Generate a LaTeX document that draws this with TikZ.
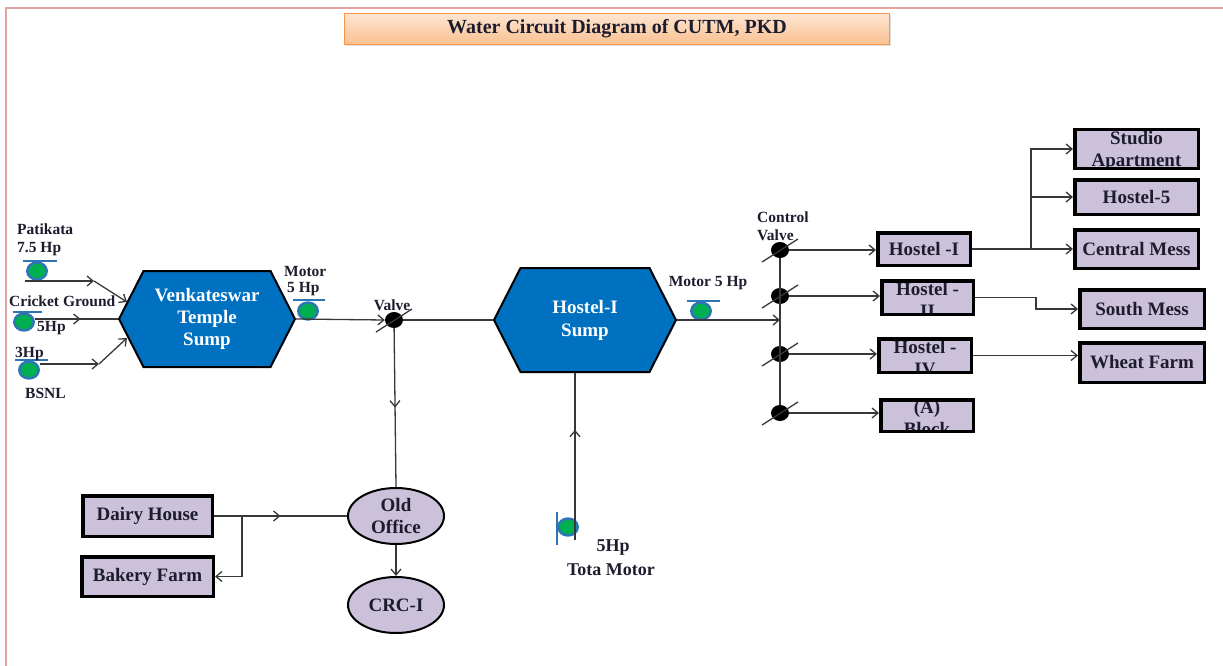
\documentclass[tikz,border=0pt]{standalone}
\usepackage{fontspec}
\setmainfont{Liberation Serif}
\usepackage{tikz}
\usetikzlibrary{
    arrows.meta,
    shapes.geometric,
    shapes.symbols,
    decorations.markings,
    shadows,
    calc,
    positioning
}
\definecolor{hexblue}{HTML}{0070C0}
\definecolor{lav}{HTML}{CCC1DA}
\definecolor{pgreen}{HTML}{00B050}
\definecolor{pblue}{HTML}{2E75B6}
\definecolor{framepink}{HTML}{E3A3A3}
\definecolor{ttop}{HTML}{FDE6D2}
\definecolor{tbot}{HTML}{FAC090}
\definecolor{tline}{HTML}{F79646}
\definecolor{ink}{HTML}{1C1C2E}
\definecolor{pipec}{HTML}{383838}

\begin{document}
\begin{tikzpicture}[x=1pt, y=-1pt,
    >={Straight Barb[length=6pt,width=10pt]},
    pipe/.style={draw=pipec, line width=1.3pt},
    midarrow/.style={postaction={decorate},
        decoration={markings, mark=at position #1 with {\arrow{>}}}},
    titlebox/.style={draw=tline, line width=0.8pt, top color=ttop, bottom color=tbot,
        minimum width=545pt, minimum height=31pt, inner sep=0pt, text=ink,
        font=\fontsize{20}{24}\selectfont\bfseries,
        drop shadow={shadow xshift=1pt, shadow yshift=-2pt, opacity=0.25}},
    sump/.style={signal, signal to=west and east, signal pointer angle=126,
        draw=black, line width=2pt, fill=hexblue, text=white, align=center,
        inner sep=0pt, font=\fontsize{19}{22}\selectfont\bfseries},
    pump/.style={ellipse, draw=pblue, line width=2.4pt, fill=pgreen,
        minimum width=19.5pt, minimum height=17pt, inner sep=0pt},
    bar/.style={draw=pblue, line width=1.2pt},
    valve/.style={ellipse, fill=black, minimum width=18pt, minimum height=16pt, inner sep=0pt},
    tbox/.style={draw=black, line width=3.5pt, fill=lav, text=ink, align=center,
        inner sep=0pt, font=\fontsize{19}{22}\selectfont\bfseries},
    cliptext/.style 2 args={path picture={
        \node[font=\fontsize{19}{22}\selectfont\bfseries, text=ink, align=center, inner sep=0pt]
            at ([shift={(0,#1)}]path picture bounding box.center) {#2};}},
    oval/.style={ellipse, draw=black, line width=2pt, fill=lav, text=ink, align=center,
        minimum width=96pt, minimum height=56pt, inner sep=0pt,
        font=\fontsize{19}{22}\selectfont\bfseries},
    lbl/.style={text=ink, inner sep=0pt, font=\fontsize{15.5}{18}\selectfont\bfseries}
]
\useasboundingbox (0,0) rectangle (1223,666);
\draw[framepink, line width=2pt] (6,666) -- (6,8) -- (1223,8);

\node[titlebox] (title) at (617,29) {Water Circuit Diagram of CUTM, PKD};

\node[sump, minimum width=176pt, minimum height=96pt] (vts) at (207,319) {Venkateswar\\Temple\\Sump};
\node[sump, minimum width=182pt, minimum height=104pt] (hss) at (585,320) {Hostel-I\\[1pt]Sump};

\node[pump] (p1) at (37,271) {};
\node[pump] (p2) at (24,322) {};
\node[pump] (p3) at (29,370) {};
\node[pump] (p4) at (308,311) {};
\node[pump] (p5) at (701,311) {};
\node[pump] (p6) at (568,527) {};
\foreach \p/\a/\b/\c/\d in {p1/-14/-10/20/-10, p2/-11/-10/18/-10, p3/-14/-10/19/-10,
    p4/-15/-11/17/-11, p5/-14/-10/19/-10, p6/-11/-15/-11/18}
    \draw[bar] ([shift={(\a,\b)}]\p.center) -- ([shift={(\c,\d)}]\p.center);

\node[valve] (v1) at (394,320) {};
\node[valve] (c1) at (780,250) {};
\node[valve] (c2) at (780,296) {};
\node[valve] (c3) at (780,354) {};
\node[valve] (c4) at (780,413) {};
\foreach \v in {v1,c1,c2,c3,c4}
    \draw[pipe] ([shift={(-18,12)}]\v.center) -- ([shift={(18,-11)}]\v.center);

\node[oval] (oo) at (396,516) {Old\\Office};
\node[oval] (crc) at (396,605) {CRC-I};

\node[tbox, minimum width=129.5pt, minimum height=40.5pt] (dh) at (147.5,516) {Dairy House};
\node[tbox, minimum width=131.5pt, minimum height=39.5pt] (bk) at (147.5,576.5) {Bakery Farm};
\node[tbox, minimum width=92.5pt, minimum height=32.5pt] (h1) at (924,249) {Hostel -I};
\node[tbox, minimum width=91.5pt, minimum height=33.5pt, cliptext={2.5}{Hostel -\\II}] (h2) at (927.5,297.5) {};
\node[tbox, minimum width=92.5pt, minimum height=33.5pt, cliptext={2.5}{Hostel -\\IV}] (h4) at (925,355.5) {};
\node[tbox, minimum width=92.5pt, minimum height=31.5pt, cliptext={2}{(A)\\Block}] (ab) at (927,415.5) {};
\node[tbox, minimum width=123.5pt, minimum height=38.5pt, cliptext={2}{Studio\\Apartment}] (sa) at (1136.5,149) {};
\node[tbox, minimum width=123.5pt, minimum height=34.5pt] (h5) at (1136.5,197) {Hostel-5};
\node[tbox, minimum width=123.5pt, minimum height=38.5pt] (cm) at (1136.5,249) {Central Mess};
\node[tbox, minimum width=124.5pt, minimum height=38.5pt] (sm) at (1142,309) {South Mess};
\node[tbox, minimum width=124.5pt, minimum height=39.5pt] (wf) at (1142,362.5) {Wheat Farm};

\node[lbl, anchor=west] (lpat) at (17,229) {Patikata};
\node[lbl, anchor=west] (lpat2) at (17,249) {7.5 Hp};
\node[lbl, anchor=west] (lcg) at (9,301) {Cricket Ground};
\node[lbl, anchor=west] (lcg2) at (37,328) {5Hp};
\node[lbl, anchor=west] (lbs) at (15,354) {3Hp};
\node[lbl, anchor=west] (lbs2) at (25,393) {BSNL};
\node[lbl, anchor=west] (lm1) at (284,271) {Motor};
\node[lbl, anchor=west] (lm1b) at (287,289) {5 Hp};
\node[lbl] (lv) at (392,305) {Valve};
\node[lbl] (lm2) at (708,283) {Motor 5 Hp};
\node[lbl, anchor=west] (lcv) at (757,217) {Control};
\node[lbl, anchor=west] (lcv2) at (757,235) {Valve};
\node[lbl, font=\fontsize{18}{20}\selectfont\bfseries] (lt) at (613,548) {5Hp};
\node[lbl, font=\fontsize{18}{20}\selectfont\bfseries] (lt2) at (611,570) {Tota Motor};

\coordinate (s1) at (25,281);
\coordinate (k1) at (94,281);
\coordinate (e1) at (127,302);
\coordinate (s3) at (40,364);
\coordinate (k3) at (99,364);
\coordinate (e3) at (127,338);
\coordinate (b0) at (780,320);
\coordinate (j1) at (242,516);
\coordinate (j2) at (1031,249);
\coordinate (t6) at (575,540);

\draw[pipe, ->] (s1) -- (k1);
\draw[pipe, ->] (k1) -- (e1);
\draw[pipe, midarrow=0.55] (p2.east |- vts.west) -- (vts.west);
\draw[pipe, ->] (s3) -- (k3);
\draw[pipe, ->] (k3) -- (e3);
\draw[pipe, ->] (vts.east) -- (v1.west);
\draw[pipe] (v1) -- (hss.west);
\draw[pipe, midarrow=0.5] (v1) -- (oo.north);
\draw[pipe, ->] (oo.south) -- (crc.north);
\draw[pipe, midarrow=0.5] (dh.east) -- (oo.west);
\draw[pipe, ->] (j1) |- (bk.east);
\draw[pipe, midarrow=0.66] (t6) -- (t6 |- hss.south);
\draw[pipe, ->] (hss.east) -- (b0);
\draw[pipe] (c1) -- (c4);
\draw[pipe, ->] (c1) -- (c1 -| h1.west);
\draw[pipe, ->] (c2) -- (c2 -| h2.west);
\draw[pipe, ->] (c3) -- (c3 -| h4.west);
\draw[pipe, ->] (c4) -- (c4 -| ab.west);
\draw[pipe, ->] (h1.east) -- (cm.west);
\draw[pipe, ->] (j2) |- (h5.west);
\draw[pipe, ->] (j2) |- (sa.west);
\draw[pipe, ->] (h2.east) -- ++(61,0) |- (sm.west);
\draw[pipe, ->] (h4.east) -- (h4.east -| wf.west);
\end{tikzpicture}
\end{document}
